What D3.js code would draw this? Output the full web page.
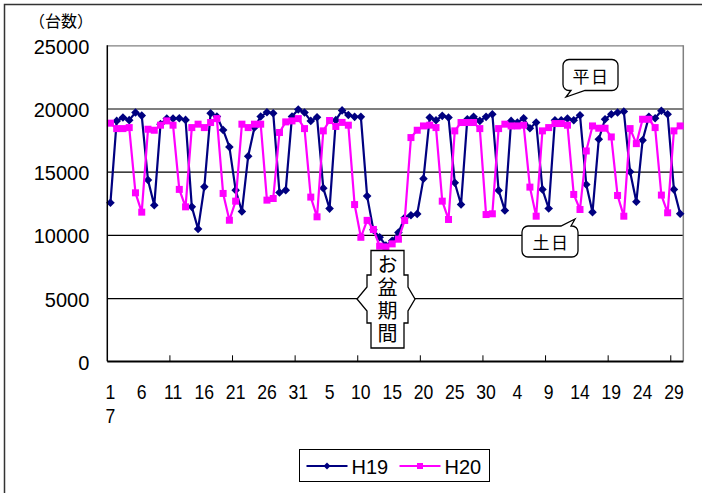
<!DOCTYPE html>
<html>
<head>
<meta charset="utf-8">
<script src="https://cdn.jsdelivr.net/npm/d3@7"></script>
<style>
  body { margin: 0; background: #fff; }
  svg { display: block; }
  .num { font-family: "Liberation Sans", Arial, sans-serif; }
  .jp { font-family: "Noto Sans CJK JP", sans-serif; }
</style>
</head>
<body>
<svg id="chart" width="702" height="493"></svg>
<script>

// ---- data ------------------------------------------------------------------

var monthLengths = [31, 31, 30],          // Jul, Aug, Sep
	monthLabel = "7",
	seriesNames = ["H19", "H20"],
	yTicks = [0, 5000, 10000, 15000, 20000, 25000];

var days = [];
monthLengths.forEach(function(n) {
	for (let d = 1; d <= n; d++) days.push(d);
});

// H19 (2007) daily counts, Jul 1 - Sep 30
var h19 = [12540,19020,19290,19080,19680,19440,14340,12340,18760,19200,
	19200,19230,19100,12220,10470,13800,19630,19370,18300,16960,
	13540,11850,16220,18500,19370,19700,19630,13360,13540,19370,
	19920,19680,19020,19310,13700,12080,19080,19850,19480,19340,
	19340,13070,10400,9820,9160,9530,10190,11350,11550,11660,
	14450,19290,19070,19420,19290,14130,12410,19150,19340,19020,
	19340,19550,13520,11930,19020,18890,19230,18440,18890,13600,
	12090,19070,19070,19210,19070,19470,13990,11800,17570,19150,
	19550,19680,19760,15000,12620,17490,19340,19230,19820,19550,
	13600,11670];

// H20 (2008) daily counts, Jul 1 - Sep 30
var h20 = [18840,18410,18410,18490,13330,11800,18360,18280,18680,19020,
	18680,13600,12220,18490,18760,18490,18890,19200,13280,11160,
	12670,18760,18490,18760,18760,12750,12880,18100,18940,19020,
	19200,18410,12990,11430,18230,19050,18580,18900,18680,12400,
	9810,11150,10430,9110,9050,9290,9660,11140,17700,18280,
	18620,18680,18490,12670,11220,18230,18890,18890,18890,18410,
	11610,11670,18410,18760,18620,18620,18680,13780,11480,18230,
	18490,18810,18810,18680,13200,12010,16640,18620,18440,18440,
	17750,13120,11480,18410,17220,19150,19150,18490,13150,11750,
	18230,18620];

// ---- setup -----------------------------------------------------------------

var svg = d3.select("#chart"),
	pl = 107.3, pr = 683.3, pt = 45.3, pb = 361.3;

var cols = { H19: "#000080", H20: "#ff00ff" };

var xScale = d3.scaleBand()
	.domain(d3.range(days.length))
	.range([pl, pr])
	.padding(0);

var bw = xScale.bandwidth(),
	cx = i => xScale(i) + bw / 2;

var yScale = d3.scaleLinear()
	.domain([0, 25000])
	.range([pb, pt]);

// outer chart border
svg.append("rect")
	.attr("x", 4.5).attr("y", 4.5)
	.attr("width", 710).attr("height", 510)
	.attr("fill", "#fff")
	.attr("stroke", "#333")
	.attr("stroke-width", 1.5);

// ---- gridlines & y axis ----------------------------------------------------

var yAxis = d3.axisLeft(yScale)
	.tickValues(yTicks)
	.tickSize(-(pr - pl))
	.tickPadding(18)
	.tickFormat(d => d);

var gy = svg.append("g")
	.attr("transform", `translate(${pl},0)`)
	.call(yAxis);
gy.select(".domain").remove();
gy.selectAll(".tick line")
	.attr("stroke", d => d == 25000 ? "#808080" : "#000")
	.attr("stroke-width", 1.2);
gy.selectAll(".tick text")
	.attr("class", "num")
	.attr("font-size", 20)
	.attr("dy", "0.4em")
	.attr("fill", "#000");

// right border of plot
svg.append("line")
	.attr("x1", pr).attr("x2", pr)
	.attr("y1", pt).attr("y2", pb)
	.attr("stroke", "#808080")
	.attr("stroke-width", 1.5);

svg.append("text")
	.attr("class", "jp")
	.attr("x", 29).attr("y", 20)
	.attr("dominant-baseline", "central")
	.attr("font-size", 16)
	.text("（台数）");

// ---- series ----------------------------------------------------------------

var line = d3.line()
	.x((d, i) => cx(i))
	.y(d => yScale(d));

function diamond(r) {
	return `M0,${-r} L${r},0 L0,${r} L${-r},0 Z`;
}

[["H19", h19], ["H20", h20]].forEach(function(s) {
	let name = s[0], vals = s[1];
	svg.append("path")
		.datum(vals)
		.attr("d", line)
		.attr("fill", "none")
		.attr("stroke", cols[name])
		.attr("stroke-width", 2.2)
		.attr("stroke-linejoin", "round");

	let g = svg.append("g");
	if (name == "H19") {
		g.selectAll("path")
			.data(vals)
			.enter()
			.append("path")
			.attr("d", diamond(4.3))
			.attr("transform", (d, i) => `translate(${cx(i)},${yScale(d)})`)
			.attr("fill", cols[name]);
	} else {
		g.selectAll("rect")
			.data(vals)
			.enter()
			.append("rect")
			.attr("x", (d, i) => cx(i) - 3.5)
			.attr("y", d => yScale(d) - 3.5)
			.attr("width", 7)
			.attr("height", 7)
			.attr("fill", cols[name]);
	}
});

// ---- x axis ----------------------------------------------------------------

svg.append("line")
	.attr("x1", pl).attr("x2", pr)
	.attr("y1", pb).attr("y2", pb)
	.attr("stroke", "#000")
	.attr("stroke-width", 1.5);
svg.append("line")
	.attr("x1", pl).attr("x2", pl)
	.attr("y1", pt).attr("y2", pb)
	.attr("stroke", "#000")
	.attr("stroke-width", 1.5);

svg.append("g")
	.selectAll("line")
	.data(d3.range(10, days.length, 10))
	.enter()
	.append("line")
	.attr("x1", d => xScale(d)).attr("x2", d => xScale(d))
	.attr("y1", pb - 6).attr("y2", pb)
	.attr("stroke", "#000")
	.attr("stroke-width", 1);

svg.append("g")
	.selectAll("text")
	.data(d3.range(0, days.length, 5))
	.enter()
	.append("text")
	.attr("class", "num")
	.attr("font-size", 20)
	.attr("text-anchor", "middle")
	.attr("transform", d => `translate(${cx(d)},399) scale(0.88,1)`)
	.text(d => days[d]);

svg.append("text")
	.attr("class", "num")
	.attr("font-size", 20)
	.attr("text-anchor", "middle")
	.attr("transform", `translate(${cx(0)},423) scale(0.88,1)`)
	.text(monthLabel);

// ---- callouts --------------------------------------------------------------

function bubble(x0, y0, w, h, r, tail) {
	// tail: {edge: "bottom"|"top", a, b, tx, ty}
	let x1 = x0 + w, y1 = y0 + h, p = d3.path();
	p.moveTo(x0 + r, y0);
	if (tail.edge == "top") {
		p.lineTo(tail.a, y0); p.lineTo(tail.tx, tail.ty); p.lineTo(tail.b, y0);
	}
	p.lineTo(x1 - r, y0);
	p.arcTo(x1, y0, x1, y0 + r, r);
	p.lineTo(x1, y1 - r);
	p.arcTo(x1, y1, x1 - r, y1, r);
	if (tail.edge == "bottom") {
		p.lineTo(tail.b, y1); p.lineTo(tail.tx, tail.ty); p.lineTo(tail.a, y1);
	}
	p.lineTo(x0 + r, y1);
	p.arcTo(x0, y1, x0, y1 - r, r);
	p.lineTo(x0, y0 + r);
	p.arcTo(x0, y0, x0 + r, y0, r);
	p.closePath();
	return p.toString();
}

svg.append("path")
	.attr("d", bubble(563, 59.5, 55, 31, 6, {edge: "bottom", a: 571, b: 585, tx: 566, ty: 97}))
	.attr("fill", "#fff")
	.attr("stroke", "#000")
	.attr("stroke-width", 1.3);
svg.append("text")
	.attr("class", "jp")
	.attr("x", 591).attr("y", 75.5)
	.attr("text-anchor", "middle")
	.attr("dominant-baseline", "central")
	.attr("font-size", 17)
	.attr("letter-spacing", 1.5)
	.text("平日");

svg.append("path")
	.attr("d", bubble(522, 226, 56, 31, 6, {edge: "top", a: 561, b: 571, tx: 575, ty: 219}))
	.attr("fill", "#fff")
	.attr("stroke", "#000")
	.attr("stroke-width", 1.3);
svg.append("text")
	.attr("class", "jp")
	.attr("x", 551).attr("y", 241.5)
	.attr("text-anchor", "middle")
	.attr("dominant-baseline", "central")
	.attr("font-size", 17)
	.attr("letter-spacing", 1.5)
	.text("土日");

// left-right arrow callout round the Obon label
var bx0 = 371, bx1 = 404, by0 = 250.5, by1 = 348,
	s0 = 275, s1 = 323, h0 = 287, h1 = 311, ym = 299;
var obon = [
	[bx0, by0], [bx1, by0], [bx1, s0], [408, s0], [408, h0], [415, ym], [408, h1], [408, s1],
	[bx1, s1], [bx1, by1], [bx0, by1], [bx0, s1], [367, s1], [367, h1], [357, ym], [367, h0],
	[367, s0], [bx0, s0]
];
svg.append("path")
	.attr("d", "M" + obon.join("L") + "Z")
	.attr("fill", "#fff")
	.attr("stroke", "#000")
	.attr("stroke-width", 1.3);
svg.append("text")
	.attr("class", "jp")
	.attr("x", (bx0 + bx1) / 2)
	.attr("y", 254)
	.attr("writing-mode", "vertical-rl")
	.attr("font-size", 20)
	.attr("letter-spacing", 3.3)
	.text("お盆期間");

// ---- legend ----------------------------------------------------------------

var lg = svg.append("g").attr("transform", "translate(299.5,449.5)");
lg.append("rect")
	.attr("width", 190).attr("height", 32)
	.attr("fill", "#fff")
	.attr("stroke", "#000")
	.attr("stroke-width", 1);

var lItems = lg.selectAll("g")
	.data(seriesNames)
	.enter()
	.append("g")
	.attr("transform", (d, i) => `translate(${7 + i * 93},16.5)`);
lItems.append("line")
	.attr("x1", 0).attr("x2", 41)
	.attr("stroke", d => cols[d])
	.attr("stroke-width", 2.2);
lItems.filter(d => d == "H19").append("path")
	.attr("d", diamond(3.5))
	.attr("transform", "translate(20.5,0)")
	.attr("fill", cols.H19);
lItems.filter(d => d == "H20").append("rect")
	.attr("x", 17.5).attr("y", -3).attr("width", 6).attr("height", 6)
	.attr("fill", cols.H20);
lItems.append("text")
	.attr("class", "num")
	.attr("x", 45).attr("y", 8)
	.attr("font-size", 20)
	.text(d => d);

</script>
</body>
</html>
